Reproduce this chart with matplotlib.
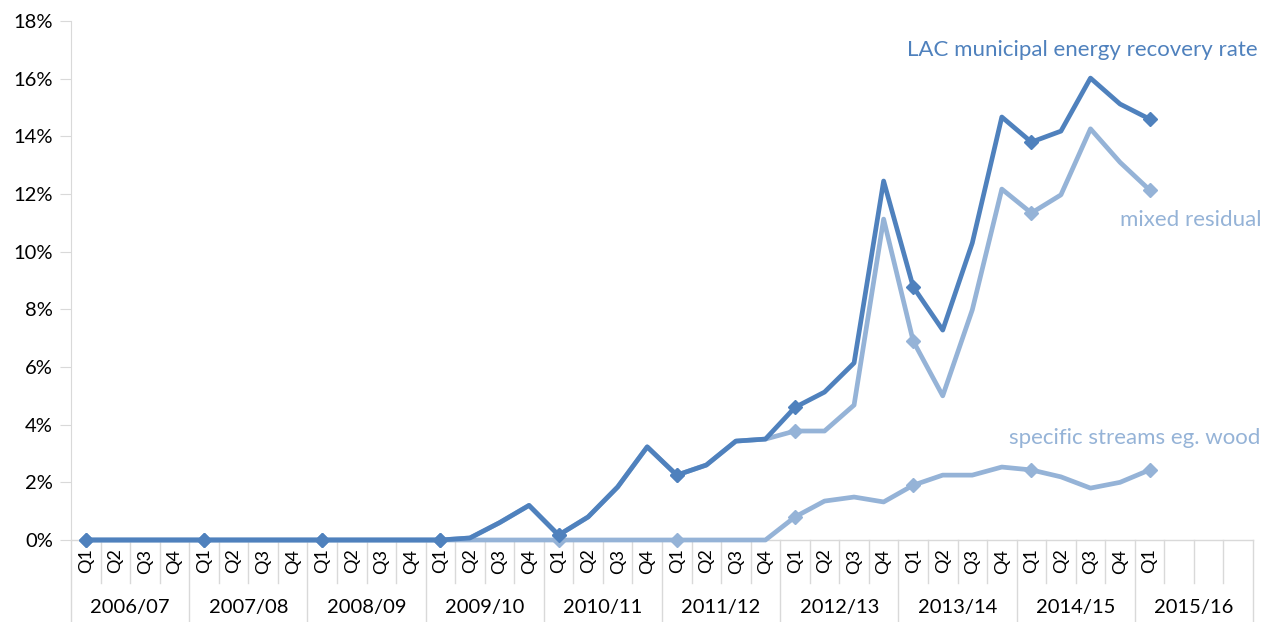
import numpy as np
import matplotlib.pyplot as plt
import matplotlib.transforms as mtransforms

plt.rcParams['font.family'] = ['Lato', 'DejaVu Sans']

years = ["2006/07", "2007/08", "2008/09", "2009/10", "2010/11",
         "2011/12", "2012/13", "2013/14", "2014/15", "2015/16"]
quarters = ["Q1", "Q2", "Q3", "Q4"]
# 2015/16 has only Q1 so far; the other three slots are empty
quarter_labels = [q for y in years[:-1] for q in quarters] + ["Q1", "", "", ""]

# values in % (None = no data yet)
total = [0, 0, 0, 0, 0, 0, 0, 0, 0, 0, 0, 0,
         0, 0.07, 0.6, 1.2, 0.17, 0.8, 1.84, 3.23,
         2.25, 2.6, 3.43, 3.5, 4.6, 5.13, 6.14, 12.45,
         8.78, 7.28, 10.3, 14.67, 13.8, 14.18, 16.02, 15.12,
         14.6, None, None, None]
mixed = [0, 0, 0, 0, 0, 0, 0, 0, 0, 0, 0, 0,
         0, 0.07, 0.6, 1.2, 0.17, 0.8, 1.84, 3.23,
         2.25, 2.6, 3.43, 3.5, 3.78, 3.78, 4.68, 11.13,
         6.9, 5.0, 7.98, 12.17, 11.34, 11.97, 14.26, 13.1,
         12.14, None, None, None]
specific = [0, 0, 0, 0, 0, 0, 0, 0, 0, 0, 0, 0,
            0, 0, 0, 0, 0, 0, 0, 0,
            0, 0, 0, 0, 0.8, 1.35, 1.49, 1.32,
            1.9, 2.25, 2.25, 2.53, 2.43, 2.19, 1.8, 2.0,
            2.43, None, None, None]

dark = "#4F81BD"
light = "#95B3D7"

def to_arr(v):
    return np.array([np.nan if a is None else a / 100 for a in v])

x = np.arange(len(quarter_labels))

fig = plt.figure(figsize=(12.73, 6.22), dpi=100)
ax = fig.add_axes([71 / 1273, 82 / 622, (1253 - 71) / 1273, 519 / 622])

for vals, col in [(specific, light), (mixed, light), (total, dark)]:
    ax.plot(x, to_arr(vals), color=col, lw=3.4, marker="D", markersize=7.5,
            markevery=4, clip_on=False, zorder=3)

ax.set_xlim(-0.5, len(x) - 0.5)
ax.set_ylim(0, 0.18)
ax.set_yticks(np.arange(0, 0.181, 0.02))
ax.set_yticklabels([f"{int(round(v * 100))}%" for v in np.arange(0, 0.181, 0.02)])
ax.tick_params(axis="y", length=8, color="#D9D9D9", labelsize=14.5, pad=5)
ax.set_xticks([])
for s in ["top", "right", "bottom"]:
    ax.spines[s].set_visible(False)
ax.spines["left"].set_color("#D9D9D9")

# multi-level category axis
tr = mtransforms.blended_transform_factory(ax.transData, ax.transAxes)
gc = "#D9D9D9"
ax.plot([-0.5, len(x) - 0.5], [0, 0], color=gc, lw=1, transform=tr, clip_on=False, zorder=1)
for i in range(len(x) + 1):
    xb = i - 0.5
    low = -82 / 519 if i % 4 == 0 else -43 / 519
    ax.plot([xb, xb], [0, low], color=gc, lw=1, transform=tr, clip_on=False, zorder=1)
for i, lab in enumerate(quarter_labels):
    ax.text(i, -21 / 519, lab, rotation=90, ha="center", va="center",
            fontsize=13, transform=tr)
for j, yr in enumerate(years):
    ax.text(j * 4 + 1.5, -68 / 519, yr, ha="center", va="center",
            fontsize=14.5, transform=tr)

# series labels (pixel positions, measured from the top)
def px(xp, yp):
    return xp / 1273, 1 - yp / 622

ax.text(*px(1258, 50), "LAC municipal energy recovery rate", color=dark, fontsize=16,
        ha="right", va="center", transform=fig.transFigure)
ax.text(*px(1262, 220), "mixed residual", color=light, fontsize=16,
        ha="right", va="center", transform=fig.transFigure)
ax.text(*px(1260, 438), "specific streams eg. wood", color=light, fontsize=16,
        ha="right", va="center", transform=fig.transFigure)

fig.savefig("out.png", dpi=100)
